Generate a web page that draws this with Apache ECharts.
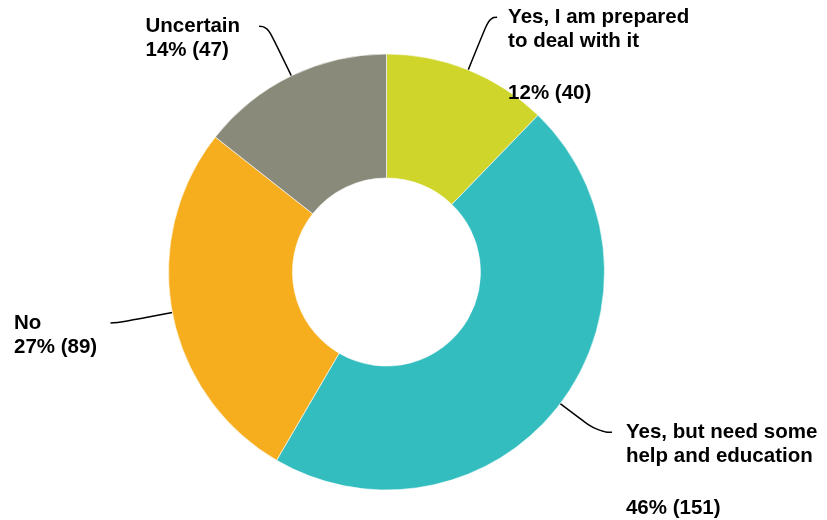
<!DOCTYPE html>
<html>
<head>
<meta charset="utf-8">
<script src="https://cdn.jsdelivr.net/npm/echarts@6/dist/echarts.min.js"></script>
<style>
  html, body { margin: 0; padding: 0; background: #ffffff; }
  #chart { width: 827px; height: 520px; }
</style>
</head>
<body>
<div id="chart"></div>
<script>
// Survey answers, clockwise from 12 o'clock
const categories = [
  'Yes, I am prepared\nto deal with it',
  'Yes, but need some\nhelp and education',
  'No',
  'Uncertain'
];
const counts = [40, 151, 89, 47];
const colors = ['#CFD52A', '#34BDBF', '#F6AE1F', '#8A8A7A'];

// Leader line geometry for each label (px)
const leaderLength = [56.7, 47.3, 55.6, 55];
const leaderLength2 = [7.6, 14, 7.2, 8.3];
const labelGap = [11, 14, 13.3, 19];

const LINE_H = 24.4;   // regular text line
const GAP_H = 27.3;    // blank line between a two-line name and its numbers

const total = counts.reduce((a, b) => a + b, 0);

function labelText(name, value) {
  const pct = Math.round(value / total * 100) + '% (' + value + ')';
  const nameLines = name.split('\n');
  const parts = nameLines.map(l => '{t|' + l + '}');
  if (nameLines.length > 1) parts.push('{g| }');
  parts.push('{t|' + pct + '}');
  return parts.join('\n');
}

// Pad the top of each label so the leader line meets its first line of text
function topPadding(name) {
  const n = name.split('\n').length;
  let h = (n - 1) * LINE_H + LINE_H; // remaining name lines + value line
  if (n > 1) h += GAP_H;
  return h;
}

const seriesData = categories.map((name, i) => ({
  name: name,
  value: counts[i],
  itemStyle: { color: colors[i] },
  label: { distanceToLabelLine: labelGap[i], padding: [topPadding(name), 0, 0, 0] },
  labelLine: { length: leaderLength[i], length2: leaderLength2[i] }
}));

const chart = echarts.init(document.getElementById('chart'), null, { renderer: 'canvas' });
chart.setOption({
  backgroundColor: '#ffffff',
  animation: false,
  series: [{
    type: 'pie',
    center: [386.5, 272],
    radius: [94, 218],
    startAngle: 90,
    clockwise: true,
    avoidLabelOverlap: false,
    percentPrecision: 0,
    bleedMargin: 0,
    silent: true,
    itemStyle: { borderColor: '#ffffff', borderWidth: 0.6 },
    label: {
      show: true,
      position: 'outside',
      alignTo: 'none',
      formatter: p => labelText(p.name, p.value),
      rich: {
        t: {
          fontFamily: '"Liberation Sans", Arial, sans-serif',
          fontSize: 20.5,
          fontWeight: 'bold',
          color: '#000000',
          lineHeight: LINE_H,
          align: 'left'
        },
        g: {
          fontFamily: '"Liberation Sans", Arial, sans-serif',
          fontSize: 20.5,
          lineHeight: GAP_H,
          align: 'left'
        }
      }
    },
    labelLine: {
      show: true,
      smooth: 0.55,
      lineStyle: { color: '#000000', width: 1.5 }
    },
    emphasis: { disabled: true },
    data: seriesData
  }]
});
</script>
</body>
</html>
